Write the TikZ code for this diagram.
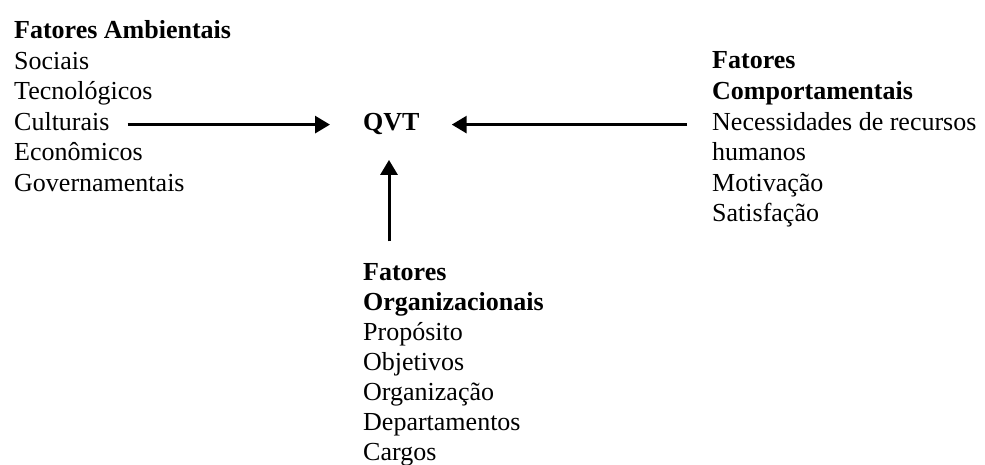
\documentclass[tikz,border=0pt]{standalone}
\usepackage{fontspec}
\setmainfont{Liberation Serif}
\usetikzlibrary{arrows.meta}
\begin{document}
\begin{tikzpicture}[x=1pt,y=-1pt,
  txt/.style={inner sep=0pt,anchor=base west,font=\fontsize{26}{30}\selectfont},
  bld/.style={txt,font=\fontsize{26}{30}\selectfont\bfseries},
  arr/.style={line width=3pt,-{Triangle[width=17pt,length=15pt]}}]
\useasboundingbox[fill=white] (0,0) rectangle (985,465);
% left block
\node[bld] (fa) at (14,39) {Fatores Ambientais};
\node[txt] (soc) at (14,69.5) {Sociais};
\node[txt] (tec) at (14,100) {Tecnológicos};
\node[txt] (cult) at (14,130.5) {Culturais};
\node[txt] (eco) at (14,161) {Econômicos};
\node[txt] (gov) at (14,191.5) {Governamentais};
% centre
\node[bld] (qvt) at (363,130.5) {QVT};
% right block
\node[bld] (fc1) at (712,69) {Fatores};
\node[bld] (fc2) at (712,99.5) {Comportamentais};
\node[txt] (nec) at (712,130.5) {Necessidades de recursos};
\node[txt] (hum) at (712,161) {humanos};
\node[txt] (mot) at (712,191.5) {Motivação};
\node[txt] (sat) at (712,222) {Satisfação};
% bottom block
\node[bld] (fo1) at (363,280.5) {Fatores};
\node[bld] (fo2) at (363,310) {Organizacionais};
\node[txt] (pro) at (363,340.5) {Propósito};
\node[txt] (obj) at (363,370.5) {Objetivos};
\node[txt] (org) at (363,400.5) {Organização};
\node[txt] (dep) at (363,430.5) {Departamentos};
\node[txt] (car) at (363,460) {Cargos};
% arrows
\draw[arr,shorten <=18pt,shorten >=33pt] ([yshift=-3pt]cult.east) -- ([yshift=-3pt]cult.east -| qvt.west);
\draw[arr,shorten <=25pt,shorten >=32pt] ([yshift=-3pt]nec.west) -- ([yshift=-3pt]nec.west -| qvt.east);
\draw[arr,shorten <=22pt,shorten >=25pt] ([xshift=26pt]fo1.north west) -- ([xshift=26pt]fo1.north west |- qvt.south);
\end{tikzpicture}
\end{document}
